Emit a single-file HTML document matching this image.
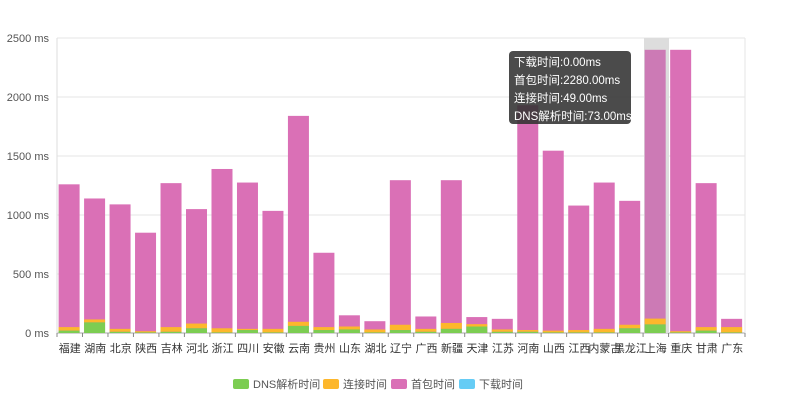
<!DOCTYPE html>
<html><head><meta charset="utf-8"><style>
body{margin:0;background:#fff;width:785px;height:400px;overflow:hidden;font-family:"Liberation Sans","Noto Sans CJK SC",sans-serif}
#tip{position:absolute;left:509px;top:51px;width:122px;height:73px;background:rgba(50,50,50,0.88);border-radius:4px;color:#fff;font-size:11.5px;line-height:18px;padding:3px 0 0 5px;box-sizing:border-box;white-space:nowrap;overflow:hidden}
</style></head><body>
<svg id="s" width="785" height="400" style="position:absolute;left:0;top:0" font-family="Liberation Sans, Noto Sans CJK SC, sans-serif"></svg>
<div id="tip">下载时间:0.00ms<br>首包时间:2280.00ms<br>连接时间:49.00ms<br>DNS解析时间:73.00ms</div>
<script>
var names=["福建","湖南","北京","陕西","吉林","河北","浙江","四川","安徽","云南","贵州","山东","湖北","辽宁","广西","新疆","天津","江苏","河南","山西","江西","内蒙古","黑龙江","上海","重庆","甘肃","广东"];
var tot=[1260,1140,1090,850,1270,1050,1390,1275,1035,1840,680,150,100,1295,140,1295,135,120,1930,1545,1080,1275,1120,2400,2400,1270,120];
var dns=[20,90,10,5,10,40,5,25,5,60,25,30,5,25,10,35,55,10,10,5,5,5,40,73,5,20,5];
var con=[30,25,25,10,40,40,35,10,30,35,25,25,25,45,25,50,20,20,15,15,20,30,30,49,10,30,45];
var y0=333,k=295/2500,x0=57,bw=688/27;
var h='';
for(var v=0;v<=2500;v+=500){var y=y0-v*k;h+='<line x1="57" x2="745" y1="'+y+'" y2="'+y+'" stroke="'+(v?'#e6e6e6':'#aaa')+'"/>';
h+='<text x="49" y="'+(y+4)+'" font-size="11" fill="#555" text-anchor="end">'+v+' ms</text>';}
h+='<line x1="745" x2="745" y1="38" y2="333" stroke="#e6e6e6"/><line x1="57" x2="57" y1="38" y2="333" stroke="#ddd"/>';
h+='<rect x="644" y="38" width="25" height="295" fill="#ddd"/>';
for(var i=0;i<27;i++){var x=x0+i*bw+1.6,w=21;var d=dns[i]*k,c=con[i]*k,t=tot[i]*k;
var hi=i==23;
h+='<rect x="'+x+'" y="'+(y0-t)+'" width="'+w+'" height="'+t+'" fill="'+(hi?'#cc7ab5':'#da70b6')+'"/>';
h+='<rect x="'+x+'" y="'+(y0-d-c)+'" width="'+w+'" height="'+c+'" fill="#fdb72c"/>';
h+='<rect x="'+x+'" y="'+(y0-d)+'" width="'+w+'" height="'+d+'" fill="#7ccd52"/>';
h+='<line x1="'+(x0+i*bw)+'" x2="'+(x0+i*bw)+'" y1="333" y2="337" stroke="#888"/>';
h+='<text x="'+(x0+i*bw+bw/2)+'" y="352" font-size="11" fill="#333" text-anchor="middle">'+names[i]+'</text>';}
h+='<line x1="745" x2="745" y1="333" y2="337" stroke="#888"/>';
var lg=[["DNS解析时间","#7ccd52",233],["连接时间","#fdb72c",323],["首包时间","#da70b6",391],["下载时间","#66ccf5",459]];
lg.forEach(function(l){h+='<rect x="'+l[2]+'" y="379" width="16" height="10" rx="2" fill="'+l[1]+'"/><text x="'+(l[2]+20)+'" y="388" font-size="11" fill="#555">'+l[0]+'</text>';});
document.getElementById('s').innerHTML=h;
</script>
</body></html>
